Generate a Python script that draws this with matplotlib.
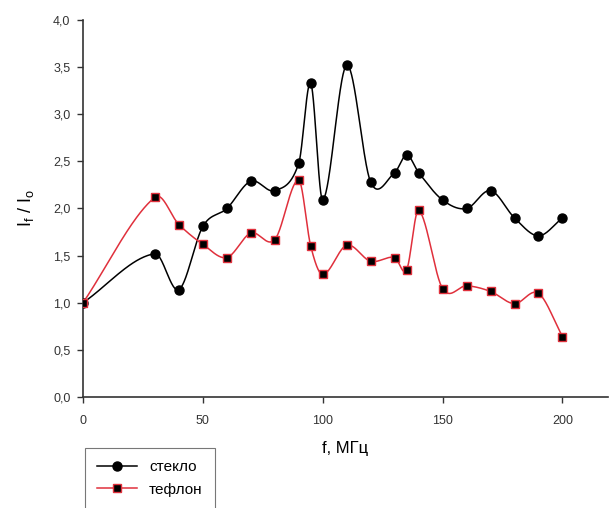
import matplotlib
matplotlib.use("Agg")
import matplotlib.pyplot as plt
import matplotlib.ticker as ticker
import numpy as np

# частота, МГц
freq = [0, 30, 40, 50, 60, 70, 80, 90, 95, 100, 110, 120, 130, 135, 140,
        150, 160, 170, 180, 190, 200]

steklo = [1.00, 1.52, 1.14, 1.81, 2.00, 2.29, 2.19, 2.48, 3.33, 2.09, 3.52,
          2.28, 2.38, 2.57, 2.38, 2.09, 2.00, 2.19, 1.90, 1.71, 1.90]

teflon = [1.00, 2.12, 1.83, 1.62, 1.48, 1.74, 1.67, 2.30, 1.60, 1.30, 1.61,
          1.44, 1.48, 1.35, 1.98, 1.15, 1.18, 1.12, 0.99, 1.10, 0.64]

labels = ["стекло", "тефлон"]


def smooth_curve(x, y, per_seg=60):
    # кривая Эрмита с касательными как у Catmull-Rom
    x = np.asarray(x, float)
    y = np.asarray(y, float)
    k = len(x)
    m = np.zeros(k)
    m[0] = (y[1] - y[0]) / (x[1] - x[0])
    m[-1] = (y[-1] - y[-2]) / (x[-1] - x[-2])
    for i in range(1, k - 1):
        m[i] = (y[i + 1] - y[i - 1]) / (x[i + 1] - x[i - 1])
    xs_all, ys_all = [], []
    for i in range(k - 1):
        h = x[i + 1] - x[i]
        t = np.linspace(0, 1, per_seg)
        h00 = 2 * t**3 - 3 * t**2 + 1
        h10 = t**3 - 2 * t**2 + t
        h01 = -2 * t**3 + 3 * t**2
        h11 = t**3 - t**2
        xs_all.append(x[i] + t * h)
        ys_all.append(h00 * y[i] + h10 * h * m[i] + h01 * y[i + 1] + h11 * h * m[i + 1])
    return np.concatenate(xs_all), np.concatenate(ys_all)


plt.rcParams['font.family'] = ['Liberation Sans', 'DejaVu Sans']
plt.rcParams['mathtext.default'] = 'regular'

fig = plt.figure(figsize=(6.09, 5.08), dpi=100)
ax = fig.add_axes([83 / 609, 111 / 508, 525 / 609, 377 / 508])

red = "#e0303c"

xs, ys = smooth_curve(freq, steklo)
ax.plot(xs, ys, color="black", lw=1.1, zorder=2)
ax.plot(freq, steklo, "o", color="black", ms=6.5, zorder=3)

xs, ys = smooth_curve(freq, teflon)
ax.plot(xs, ys, color=red, lw=1.1, zorder=2)
ax.plot(freq, teflon, "s", mfc="black", mec=red, mew=1.0, ms=6, zorder=4)

ax.set_xlim(0, 219)
ax.set_ylim(0, 4.0)
ax.xaxis.set_major_locator(ticker.MultipleLocator(50))
ax.yaxis.set_major_locator(ticker.MultipleLocator(0.5))
ax.yaxis.set_major_formatter(ticker.FuncFormatter(lambda v, p: f"{v:.1f}".replace(".", ",")))

for s in ["top", "right"]:
    ax.spines[s].set_visible(False)
for s in ["left", "bottom"]:
    ax.spines[s].set_color("#333333")
    ax.spines[s].set_linewidth(1.2)

ax.tick_params(direction="out", length=4, width=1, colors="#333333",
               labelsize=9, labelcolor="#333333")
ax.tick_params(axis="x", pad=9)
ax.tick_params(axis="y", pad=5)

ax.set_xlabel("f, МГц", fontsize=12, labelpad=10)
ax.set_ylabel("I$_f$ / I$_o$", fontsize=13, labelpad=12)

handles = [
    plt.Line2D([], [], color="black", marker="o", ms=6.5, lw=1.1),
    plt.Line2D([], [], color=red, marker="s", mfc="black", mec=red, ms=6, lw=1.1),
]
leg = fig.legend(handles, labels, loc="upper left",
                 bbox_to_anchor=(85 / 609, 1 - 448 / 508),
                 fontsize=11, frameon=True, fancybox=False, handlelength=2.6,
                 borderpad=0.8, labelspacing=0.55, handletextpad=0.8,
                 borderaxespad=0)
leg.get_frame().set_edgecolor("#555555")
leg.get_frame().set_linewidth(0.8)

fig.savefig("out.png", dpi=100)
